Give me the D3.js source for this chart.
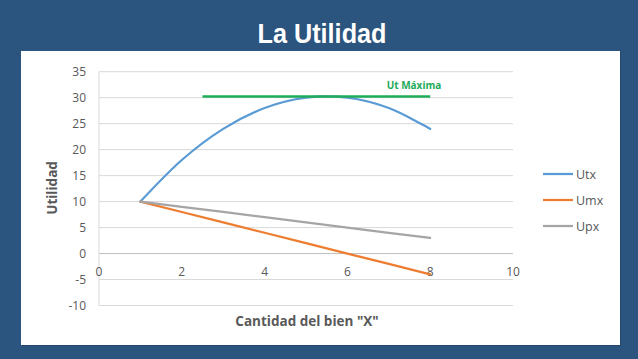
<!DOCTYPE html>
<html>
<head>
<meta charset="utf-8">
<script src="https://cdn.jsdelivr.net/npm/d3@7"></script>
<style>
  html, body { margin: 0; padding: 0; background: #2b547e; }
  svg { display: block; }
</style>
</head>
<body>
<div id="chart"></div>
<script>
// values
const cantidad = [1, 2, 3, 4, 5, 6, 7, 8];
const utx = [10, 18, 24, 28, 30, 30, 28, 24];
const umx = [10, 8, 6, 4, 2, 0, -2, -4];
const upx = [10, 9, 8, 7, 6, 5, 4, 3];
const maxX = [2.5, 8];
const maxY = [30.25, 30.25];
const yTicks = [-10, -5, 0, 5, 10, 15, 20, 25, 30, 35];
const xTicks = [0, 2, 4, 6, 8, 10];

const seriesNames = ["Utx", "Umx", "Upx"];
const seriesColors = ["#5b9bd5", "#ed7d31", "#a5a5a5"];

const W = 638, H = 359;
const svg = d3.select("#chart").append("svg")
    .attr("width", W)
    .attr("height", H);

// background + white panel
svg.append("rect").attr("width", W).attr("height", H).attr("fill", "#2b547e");
svg.append("rect")
    .attr("x", 22).attr("y", 52).attr("width", 599).attr("height", 294)
    .attr("fill", "#1f3f61").attr("opacity", 0.6);
svg.append("rect")
    .attr("x", 21).attr("y", 51).attr("width", 599).attr("height", 294)
    .attr("fill", "#ffffff");

svg.append("text")
    .attr("x", 322).attr("y", 43)
    .attr("text-anchor", "middle")
    .attr("font-family", "Liberation Sans, Arial, sans-serif")
    .attr("font-weight", "bold")
    .attr("font-size", 27)
    .attr("textLength", 129)
    .attr("lengthAdjust", "spacingAndGlyphs")
    .attr("fill", "#ffffff")
    .text("La Utilidad");

const x = d3.scaleLinear().domain([0, 10]).range([99, 513]);
const y = d3.scaleLinear().domain([-10, 35]).range([305.5, 71.7]);

const font = "Open Sans, Liberation Sans, sans-serif";

// gridlines
svg.append("g")
  .selectAll("line")
  .data(yTicks)
  .enter().append("line")
    .attr("x1", x(0)).attr("x2", x(10))
    .attr("y1", d => y(d)).attr("y2", d => y(d))
    .attr("stroke", d => d === 0 ? "#bfbfbf" : "#d9d9d9")
    .attr("stroke-width", 1);

svg.append("line")
    .attr("x1", x(0)).attr("x2", x(0))
    .attr("y1", y(-10)).attr("y2", y(35))
    .attr("stroke", "#d9d9d9");

// y tick labels
svg.append("g")
  .selectAll("text")
  .data(yTicks)
  .enter().append("text")
    .attr("x", 86)
    .attr("y", d => y(d) + 4)
    .attr("text-anchor", "end")
    .attr("font-family", font)
    .attr("font-size", 12)
    .attr("fill", "#595959")
    .text(d => d);

// x tick labels, sitting under the zero line
svg.append("g")
  .selectAll("text")
  .data(xTicks)
  .enter().append("text")
    .attr("x", d => x(d))
    .attr("y", y(0) + 22)
    .attr("text-anchor", "middle")
    .attr("font-family", font)
    .attr("font-size", 12)
    .attr("fill", "#595959")
    .text(d => d);

// axis titles
svg.append("text")
    .attr("transform", "translate(57,188) rotate(-90)")
    .attr("text-anchor", "middle")
    .attr("font-family", font)
    .attr("font-weight", "bold")
    .attr("font-size", 13.5)
    .attr("fill", "#595959")
    .text("Utilidad");

svg.append("text")
    .attr("x", 307).attr("y", 326)
    .attr("text-anchor", "middle")
    .attr("font-family", font)
    .attr("font-weight", "bold")
    .attr("font-size", 13.5)
    .attr("fill", "#595959")
    .text("Cantidad del bien \"X\"");

// series lines
const allSeries = [utx, umx, upx];
const smooth = d3.line()
    .x((d, i) => x(cantidad[i]))
    .y(d => y(d))
    .curve(d3.curveCatmullRom.alpha(0));
const straight = d3.line()
    .x((d, i) => x(cantidad[i]))
    .y(d => y(d));

allSeries.forEach((vals, k) => {
  svg.append("path")
      .datum(vals)
      .attr("d", k === 0 ? smooth : straight)
      .attr("fill", "none")
      .attr("stroke", seriesColors[k])
      .attr("stroke-width", 2.25)
      .attr("stroke-linejoin", "round")
      .attr("stroke-linecap", "round");
});

// max utility line
svg.append("path")
    .datum(maxX.map((d, i) => [d, maxY[i]]))
    .attr("d", d3.line().x(d => x(d[0])).y(d => y(d[1])))
    .attr("stroke", "#1fab5a")
    .attr("stroke-width", 2.5)
    .attr("fill", "none");

svg.append("text")
    .attr("x", 414).attr("y", 89)
    .attr("text-anchor", "middle")
    .attr("font-family", font)
    .attr("font-weight", "bold")
    .attr("font-size", 10)
    .attr("fill", "#1fab5a")
    .text("Ut Máxima");

// legend
const legend = svg.append("g")
  .selectAll("g")
  .data(seriesNames)
  .enter().append("g")
    .attr("transform", (d, i) => "translate(543," + (174 + i * 26) + ")");

legend.append("line")
    .attr("x1", 0).attr("x2", 30)
    .attr("stroke", (d, i) => seriesColors[i])
    .attr("stroke-width", 2.25);

legend.append("text")
    .attr("x", 33).attr("y", 4.5)
    .attr("font-family", font)
    .attr("font-size", 12.5)
    .attr("fill", "#595959")
    .text(d => d);
</script>
</body>
</html>
